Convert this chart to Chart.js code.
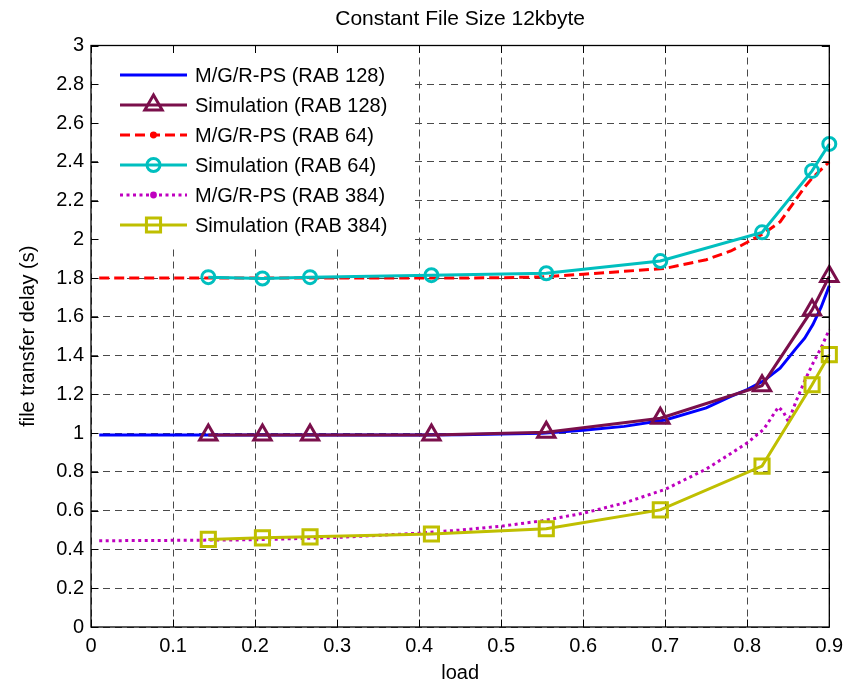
<!DOCTYPE html>
<html><head><meta charset="utf-8">
<script src="https://cdn.jsdelivr.net/npm/chart.js@4/dist/chart.umd.min.js"></script>
<style>html,body{margin:0;padding:0;background:#fff}canvas{display:block}</style>
</head><body>
<canvas id="c" width="845" height="683"></canvas>
<script>
const FONT = '"Liberation Sans", Arial, Helvetica, sans-serif';
const chartTitle = 'Constant File Size 12kbyte';
const xTitle = 'load';
const yTitle = 'file transfer delay (s)';
const seriesNames = ['M/G/R-PS (RAB 128)', 'Simulation (RAB 128)', 'M/G/R-PS (RAB 64)', 'Simulation (RAB 64)', 'M/G/R-PS (RAB 384)', 'Simulation (RAB 384)'];

const simLoad = [0.143, 0.209, 0.267, 0.415, 0.555, 0.694, 0.818, 0.879, 0.9];
const simDelay128 = [0.99, 0.99, 0.99, 0.99, 1.005, 1.077, 1.245, 1.636, 1.808];
const simDelay64 = [1.805, 1.798, 1.805, 1.815, 1.825, 1.888, 2.036, 2.353, 2.492];
const simDelay384 = [0.452, 0.46, 0.465, 0.48, 0.507, 0.604, 0.83, 1.25, 1.405];

const modelLoad = [0.01, 0.1, 0.2, 0.3, 0.4, 0.45, 0.5, 0.55, 0.6, 0.65, 0.7, 0.75, 0.78, 0.8, 0.82, 0.84, 0.86, 0.87, 0.88, 0.89, 0.9];
const modelDelay128 = [0.99, 0.99, 0.99, 0.99, 0.99, 0.992, 0.996, 1.0, 1.015, 1.035, 1.068, 1.13, 1.19, 1.225, 1.27, 1.335, 1.44, 1.49, 1.56, 1.65, 1.76];
const modelDelay64 = [1.80, 1.80, 1.80, 1.80, 1.80, 1.80, 1.802, 1.806, 1.82, 1.835, 1.85, 1.895, 1.94, 1.985, 2.03, 2.09, 2.21, 2.27, 2.32, 2.36, 2.40];
const modelLoad384 = [0.01, 0.1, 0.2, 0.3, 0.4, 0.45, 0.5, 0.55, 0.6, 0.65, 0.7, 0.75, 0.78, 0.8, 0.82, 0.838, 0.844, 0.85, 0.86, 0.87, 0.88, 0.89, 0.9];
const modelDelay384 = [0.445, 0.447, 0.45, 0.462, 0.484, 0.50, 0.52, 0.548, 0.587, 0.64, 0.71, 0.815, 0.895, 0.95, 1.02, 1.135, 1.11, 1.06, 1.17, 1.27, 1.36, 1.44, 1.535];

const xTickValues = [0, 0.1, 0.2, 0.3, 0.4, 0.5, 0.6, 0.7, 0.8, 0.9];
const xTickLabels = ['0', '0.1', '0.2', '0.3', '0.4', '0.5', '0.6', '0.7', '0.8', '0.9'];
const yTickValues = [0, 0.2, 0.4, 0.6, 0.8, 1, 1.2, 1.4, 1.6, 1.8, 2, 2.2, 2.4, 2.6, 2.8, 3];
const yTickLabels = ['0', '0.2', '0.4', '0.6', '0.8', '1', '1.2', '1.4', '1.6', '1.8', '2', '2.2', '2.4', '2.6', '2.8', '3'];

function pts(xs, ys) { return xs.map((x, i) => ({x: x, y: ys[i]})); }

const styles = [
  {color: '#0000ff', dash: [], marker: null},
  {color: '#7a0f4b', dash: [], marker: 'triangle', r: 10},
  {color: '#ff0000', dash: [10, 5], marker: 'dot'},
  {color: '#00bfbf', dash: [], marker: 'circle', r: 6.5},
  {color: '#bf00bf', dash: [3, 3.5], marker: 'dot'},
  {color: '#bfbf00', dash: [], marker: 'rect', r: 10}
];
const seriesData = [
  pts(modelLoad, modelDelay128),
  pts(simLoad, simDelay128),
  pts(modelLoad, modelDelay64),
  pts(simLoad, simDelay64),
  pts(modelLoad384, modelDelay384),
  pts(simLoad, simDelay384)
];

const datasets = seriesData.map((d, i) => {
  const s = styles[i];
  const hasMarker = s.marker && s.marker !== 'dot';
  return {
    label: seriesNames[i],
    data: d,
    borderColor: s.color,
    backgroundColor: s.color,
    borderWidth: 3,
    borderDash: s.dash,
    borderCapStyle: 'butt',
    tension: 0,
    pointStyle: hasMarker ? s.marker : 'circle',
    pointRadius: hasMarker ? s.r : 0,
    pointHoverRadius: hasMarker ? s.r : 0,
    pointBorderWidth: 3,
    pointBorderColor: s.color,
    pointBackgroundColor: 'rgba(0,0,0,0)',
    clip: false,
    order: 6 - i
  };
});

function drawMarker(ctx, type, x, y, r, color) {
  ctx.save();
  ctx.setLineDash([]);
  ctx.strokeStyle = color;
  ctx.fillStyle = color;
  ctx.lineWidth = 3;
  ctx.beginPath();
  if (type === 'triangle') {
    let a = 0;
    ctx.moveTo(x + Math.sin(a) * r, y - Math.cos(a) * r);
    a += 2 * Math.PI / 3;
    ctx.lineTo(x + Math.sin(a) * r, y - Math.cos(a) * r);
    a += 2 * Math.PI / 3;
    ctx.lineTo(x + Math.sin(a) * r, y - Math.cos(a) * r);
    ctx.closePath();
    ctx.stroke();
  } else if (type === 'circle') {
    ctx.arc(x, y, r, 0, Math.PI * 2);
    ctx.stroke();
  } else if (type === 'rect') {
    const h = r * Math.SQRT1_2;
    ctx.rect(x - h, y - h, 2 * h, 2 * h);
    ctx.stroke();
  } else if (type === 'dot') {
    ctx.arc(x, y, 3.4, 0, Math.PI * 2);
    ctx.fill();
  }
  ctx.restore();
}

const framePlugin = {
  id: 'frame',
  afterDatasetsDraw(chart) {
    const ctx = chart.ctx;
    ctx.save();
    ctx.fillStyle = '#ffffff';
    ctx.fillRect(100, 56, 312, 191);
    ctx.font = '20px ' + FONT;
    ctx.textBaseline = 'middle';
    ctx.textAlign = 'left';
    chart.data.datasets.forEach((ds, i) => {
      const s = styles[i];
      const y = 75 + i * 30;
      ctx.save();
      ctx.strokeStyle = s.color;
      ctx.lineWidth = 3;
      ctx.setLineDash(s.dash);
      ctx.lineCap = 'butt';
      ctx.beginPath();
      ctx.moveTo(120, y);
      ctx.lineTo(187, y);
      ctx.stroke();
      ctx.restore();
      if (s.marker) drawMarker(ctx, s.marker, 153.5, y, s.r || 3, s.color);
      ctx.fillStyle = '#000';
      ctx.fillText(ds.label, 195, y + 1);
    });
    ctx.restore();
  },
  afterDraw(chart) {
    const ctx = chart.ctx;
    const a = chart.chartArea;
    const xs = chart.scales.x, ys = chart.scales.y;
    const L = 7.5;
    ctx.save();
    ctx.strokeStyle = '#000';
    ctx.lineWidth = 1;
    ctx.setLineDash([]);
    ctx.beginPath();
    xTickValues.forEach(v => {
      const px = Math.round(xs.getPixelForValue(v)) + 0.5;
      ctx.moveTo(px, a.bottom); ctx.lineTo(px, a.bottom - L);
      ctx.moveTo(px, a.top); ctx.lineTo(px, a.top + L);
    });
    yTickValues.forEach(v => {
      const py = Math.round(ys.getPixelForValue(v)) + 0.5;
      ctx.moveTo(a.left, py); ctx.lineTo(a.left + L, py);
      ctx.moveTo(a.right, py); ctx.lineTo(a.right - L, py);
    });
    ctx.stroke();
    ctx.lineWidth = 1.3;
    ctx.strokeRect(a.left, a.top, a.right - a.left, a.bottom - a.top);
    ctx.restore();
  }
};

new Chart(document.getElementById('c'), {
  type: 'line',
  data: {datasets: datasets},
  options: {
    responsive: false,
    animation: false,
    events: [],
    layout: {padding: {left: 0, right: 15.7, top: 0, bottom: 0}},
    plugins: {
      legend: {display: false},
      tooltip: {enabled: false},
      title: {
        display: true,
        text: chartTitle,
        fullSize: false,
        color: '#000',
        font: {family: FONT, size: 21, weight: 'normal', lineHeight: 1.2},
        padding: {top: 6.8, bottom: 13.5}
      }
    },
    scales: {
      x: {
        type: 'linear',
        min: 0, max: 0.9,
        afterBuildTicks: s => { s.ticks = xTickValues.map(v => ({value: v})); },
        afterFit: s => { s.height = 56; s.paddingLeft = 0; s.paddingRight = 0; },
        ticks: {
          autoSkip: false, maxRotation: 0, padding: 7, color: '#000',
          font: {family: FONT, size: 20, lineHeight: 1.2},
          callback: (v, i) => xTickLabels[i]
        },
        grid: {color: '#4a4a4a', lineWidth: 1, drawTicks: false},
        border: {display: false, dash: [7, 5]},
        title: {display: true, text: xTitle, color: '#000', font: {family: FONT, size: 20, lineHeight: 1}, padding: {top: 0, bottom: 0}}
      },
      y: {
        type: 'linear',
        min: 0, max: 3,
        afterBuildTicks: s => { s.ticks = yTickValues.map(v => ({value: v})); },
        afterFit: s => { s.width = 91; s.paddingTop = 0; s.paddingBottom = 0; },
        ticks: {
          autoSkip: false, padding: 7, color: '#000',
          font: {family: FONT, size: 20, lineHeight: 1.2},
          callback: (v, i) => yTickLabels[i]
        },
        grid: {color: '#4a4a4a', lineWidth: 1, drawTicks: false},
        border: {display: false, dash: [7, 5]},
        title: {display: true, text: yTitle, color: '#000', font: {family: FONT, size: 20, lineHeight: 1.2}, padding: {top: 16, bottom: 0}}
      }
    }
  },
  plugins: [framePlugin]
});
</script>
</body></html>
